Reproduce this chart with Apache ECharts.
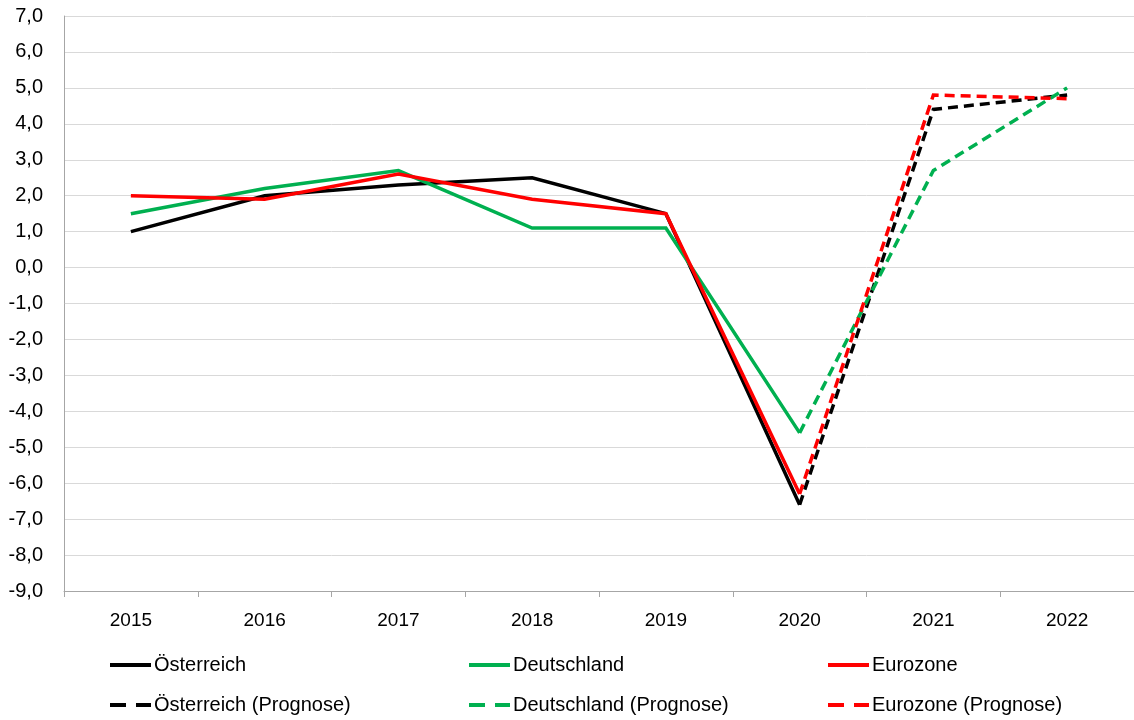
<!DOCTYPE html>
<html>
<head>
<meta charset="utf-8">
<script src="https://cdn.jsdelivr.net/npm/echarts@6/dist/echarts.min.js"></script>
<style>html,body{margin:0;padding:0;background:#fff}#c{width:1134px;height:720px}</style>
</head>
<body>
<div id="c"></div>
<script>
const years = ['2015','2016','2017','2018','2019','2020','2021','2022'];
const oesterreich = [1.0, 2.0, 2.3, 2.5, 1.5, -6.6, null, null];
const deutschland = [1.5, 2.2, 2.7, 1.1, 1.1, -4.6, null, null];
const eurozone = [2.0, 1.9, 2.6, 1.9, 1.5, -6.3, null, null];
const oesterreichPrognose = [null, null, null, null, null, -6.6, 4.4, 4.8];
const deutschlandPrognose = [null, null, null, null, null, -4.6, 2.7, 5.0];
const eurozonePrognose = [null, null, null, null, null, -6.3, 4.8, 4.7];
const names = ['Österreich','Deutschland','Eurozone','Österreich (Prognose)','Deutschland (Prognose)','Eurozone (Prognose)'];

const FONT = 'Liberation Sans';
const BLACK = '#000000', GREEN = '#00b050', RED = '#ff0000';
const dash = [10, 6];

function mk(name, data, color, dashed, z) {
  return {
    name, type: 'line', data, symbol: 'none', z,
    connectNulls: false, animation: false,
    lineStyle: { color, width: 3.5, type: dashed ? dash : 'solid', cap: 'butt', join: 'miter' },
    itemStyle: { color }
  };
}
function lg(name, left, top, dashed) {
  return {
    data: [{ name, lineStyle: { width: 4, type: dashed ? [16, 10] : 'solid', cap: 'butt' } }],
    left, top, padding: 0, itemWidth: 41, itemHeight: 14, itemGap: 0,
    itemStyle: { opacity: 0 },
    textStyle: { fontFamily: FONT, fontSize: 20, color: '#000', padding: [0, 0, 0, -2] }
  };
}
const chart = echarts.init(document.getElementById('c'), null, { renderer: 'canvas' });
chart.setOption({
  animation: false,
  backgroundColor: '#fff',
  grid: { left: 64, top: 16, width: 1078, height: 575, containLabel: false },
  xAxis: {
    type: 'category', data: years, boundaryGap: true,
    axisLine: { onZero: false, lineStyle: { color: '#a6a6a6', width: 1 } },
    axisTick: { show: true, length: 6, lineStyle: { color: '#a6a6a6' } },
    axisLabel: { fontFamily: FONT, fontSize: 19, color: '#000', margin: 20 },
    splitLine: { show: false }
  },
  yAxis: {
    type: 'value', min: -9, max: 7, interval: 1,
    axisLine: { show: true, lineStyle: { color: '#a6a6a6', width: 1 } },
    axisTick: { show: false },
    axisLabel: { fontFamily: FONT, fontSize: 20, color: '#000', margin: 21,
      formatter: v => v.toFixed(1).replace('.', ',') },
    splitLine: { lineStyle: { color: '#d9d9d9', width: 1 } }
  },
  legend: [
    lg(names[0], 108, 655, false), lg(names[1], 467, 655, false), lg(names[2], 826, 655, false),
    lg(names[3], 108, 695, true), lg(names[4], 467, 695, true), lg(names[5], 826, 695, true)
  ],
  series: [
    mk(names[0], oesterreich, BLACK, false, 2),
    mk(names[1], deutschland, GREEN, false, 3),
    mk(names[2], eurozone, RED, false, 4),
    mk(names[3], oesterreichPrognose, BLACK, true, 2),
    mk(names[4], deutschlandPrognose, GREEN, true, 3),
    mk(names[5], eurozonePrognose, RED, true, 4)
  ]
});
</script>
</body>
</html>
